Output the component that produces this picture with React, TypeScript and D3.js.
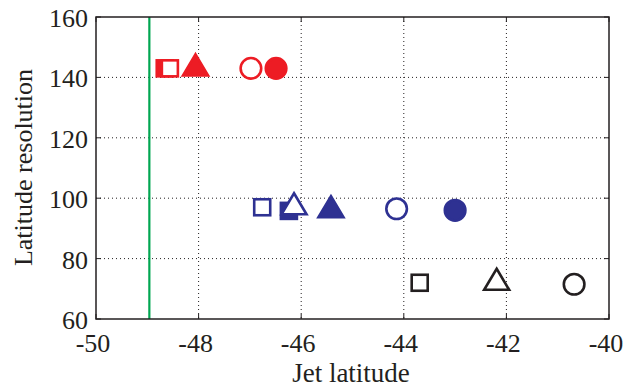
import React from "react";
import * as d3 from "d3";

const xTicks = [-50, -48, -46, -44, -42, -40];
const yTicks = [60, 80, 100, 120, 140, 160];

const redX = [-48.66, -48.56, -48.06, -46.98, -46.49];
const redY = [143, 143, 143, 143, 143];
const redShape = ["square", "square", "triangle", "circle", "circle"];
const redFilled = [true, false, true, false, true];

const blueX = [-46.76, -46.24, -46.14, -45.42, -44.14, -43.0];
const blueY = [97, 95.8, 97, 96, 96.5, 96];
const blueShape = ["square", "square", "triangle", "triangle", "circle", "circle"];
const blueFilled = [false, true, false, true, false, true];

const blackX = [-43.69, -42.19, -40.68];
const blackY = [72, 72, 71.5];
const blackShape = ["square", "triangle", "circle"];
const blackFilled = [false, false, false];

const greenLineX = -48.96;

const RED = "#ED1C24";
const BLUE = "#2E3192";
const BLACK = "#231F20";
const GREEN = "#00A651";

const W = 624, H = 388;
const L = 96, R = 609, T = 17, B = 319;
const FONT = "'Liberation Serif', 'Times New Roman', serif";

function Marker({ shape, filled, cx, cy, color }: any) {
  const fill = filled ? color : "#fff";
  const sw = 2.6;
  if (shape === "circle") {
    return <circle cx={cx} cy={cy} r={10.3} fill={fill} stroke={color} strokeWidth={sw} />;
  }
  if (shape === "square") {
    const s = 16;
    return <rect x={cx - s / 2} y={cy - s / 2} width={s} height={s} fill={fill} stroke={color} strokeWidth={sw} />;
  }
  const w = 25, h = 21;
  const p = d3.path();
  p.moveTo(cx, cy - (2 * h) / 3);
  p.lineTo(cx + w / 2, cy + h / 3);
  p.lineTo(cx - w / 2, cy + h / 3);
  p.closePath();
  return <path d={p.toString()} fill={fill} stroke={color} strokeWidth={sw} strokeLinejoin="miter" />;
}

export default function App() {
  const x = d3.scaleLinear().domain([-50, -40]).range([L, R]);
  const y = d3.scaleLinear().domain([60, 160]).range([B, T]);

  const series = [
    { xs: redX, ys: redY, shapes: redShape, filled: redFilled, color: RED },
    { xs: blueX, ys: blueY, shapes: blueShape, filled: blueFilled, color: BLUE },
    { xs: blackX, ys: blackY, shapes: blackShape, filled: blackFilled, color: BLACK },
  ];

  const tickLen = 5;
  return (
    <svg width={W} height={H} style={{ position: "absolute", left: 0, top: 0, background: "#fff" }}>
      <rect x={0} y={0} width={W} height={H} fill="#fff" />
      {xTicks.slice(1, -1).map((t) => (
        <line key={"gx" + t} x1={x(t)} x2={x(t)} y1={T} y2={B} stroke={BLACK} strokeWidth={1} strokeDasharray="1 3" />
      ))}
      {yTicks.slice(1, -1).map((t) => (
        <line key={"gy" + t} x1={L} x2={R} y1={y(t)} y2={y(t)} stroke={BLACK} strokeWidth={1} strokeDasharray="1 3" />
      ))}
      {xTicks.map((t) => (
        <g key={"tx" + t}>
          <line x1={x(t)} x2={x(t)} y1={B} y2={B - tickLen} stroke={BLACK} strokeWidth={1} />
          <line x1={x(t)} x2={x(t)} y1={T} y2={T + tickLen} stroke={BLACK} strokeWidth={1} />
        </g>
      ))}
      {yTicks.map((t) => (
        <g key={"ty" + t}>
          <line x1={L} x2={L + tickLen} y1={y(t)} y2={y(t)} stroke={BLACK} strokeWidth={1} />
          <line x1={R} x2={R - tickLen} y1={y(t)} y2={y(t)} stroke={BLACK} strokeWidth={1} />
        </g>
      ))}
      <line x1={x(greenLineX)} x2={x(greenLineX)} y1={T} y2={B} stroke={GREEN} strokeWidth={2.2} />
      {series.map((s, si) =>
        s.xs.map((v, i) => (
          <Marker key={si + "-" + i} shape={s.shapes[i]} filled={s.filled[i]} cx={x(v)} cy={y(s.ys[i])} color={s.color} />
        ))
      )}
      <rect x={L} y={T} width={R - L} height={B - T} fill="none" stroke={BLACK} strokeWidth={1.5} />
      {xTicks.map((t) => (
        <text key={"lx" + t} x={x(t) - 3} y={352} textAnchor="middle" fontFamily={FONT} fontSize={26} fill={BLACK}>{String(t)}</text>
      ))}
      {yTicks.map((t) => (
        <text key={"ly" + t} x={88} y={y(t) + 10} textAnchor="end" fontFamily={FONT} fontSize={26} fill={BLACK}>{String(t)}</text>
      ))}
      <text x={351} y={382} textAnchor="middle" fontFamily={FONT} fontSize={27} fill={BLACK}>Jet latitude</text>
      <text transform="translate(32,167.5) rotate(-90)" textAnchor="middle" fontFamily={FONT} fontSize={26} fill={BLACK}>Latitude resolution</text>
    </svg>
  );
}
